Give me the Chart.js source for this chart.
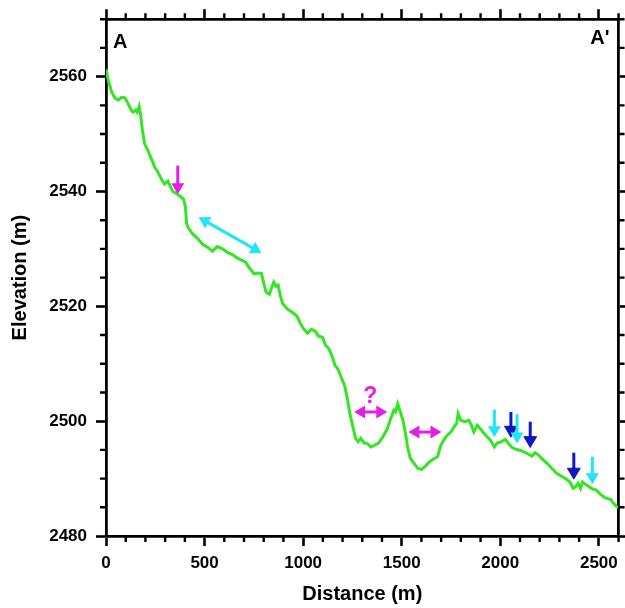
<!DOCTYPE html>
<html><head><meta charset="utf-8">
<script src="https://cdn.jsdelivr.net/npm/chart.js@4.4.1/dist/chart.umd.min.js"></script>
<style>html,body{margin:0;padding:0;background:#fff}#wrap{width:625px;height:608px;position:relative}</style>
</head><body><div id="wrap"><canvas id="c" width="625" height="608"></canvas></div>
<script>
// ---- data ----
const distance = [0,12,29,45,62,79,96,112,129,137,151,158,168,175,185,196,213,230,247,263,280,297,314,326,339,359,381,393,403,409,420,440,465,490,515,540,565,591,616,641,666,691,708,725,750,775,789,801,812,829,839,851,862,873,884,896,918,943,968,985,1002,1022,1041,1061,1078,1098,1114,1131,1148,1162,1178,1195,1212,1225,1237,1254,1266,1279,1292,1309,1326,1343,1363,1383,1405,1427,1447,1460,1469,1480,1490,1506,1519,1531,1544,1564,1581,1601,1618,1640,1665,1682,1698,1719,1732,1749,1766,1779,1786,1799,1819,1841,1853,1866,1883,1900,1925,1950,1970,1984,2004,2025,2042,2059,2081,2110,2135,2160,2177,2194,2210,2236,2261,2286,2311,2336,2353,2370,2383,2395,2407,2417,2437,2462,2487,2507,2529,2546,2562,2574,2588,2598];
const elevation = [2561.3,2559.3,2557.3,2556.3,2555.9,2556.4,2556.3,2555.3,2554.1,2553.8,2554.2,2553.8,2554.8,2553.5,2550.6,2548.3,2547.1,2545.7,2544.2,2543.4,2542.2,2541.3,2541.8,2540.9,2540.0,2539.6,2539.0,2538.7,2537.3,2534.4,2533.5,2532.6,2531.8,2530.8,2530.3,2529.6,2530.4,2530.0,2529.4,2529.0,2528.4,2528.0,2527.7,2526.8,2525.7,2525.8,2525.7,2523.9,2522.5,2522.1,2523.1,2524.2,2523.5,2523.7,2521.9,2520.5,2519.6,2519.0,2518.3,2517.1,2516.1,2515.3,2516.0,2515.7,2514.8,2514.6,2513.2,2512.6,2511.2,2509.7,2509.0,2507.5,2506.0,2503.8,2501.3,2498.8,2497.0,2496.4,2497.0,2496.2,2496.1,2495.5,2495.8,2496.2,2497.3,2498.7,2500.7,2501.9,2501.6,2503.0,2501.9,2500.2,2497.9,2495.3,2493.5,2492.6,2491.8,2491.6,2492.1,2492.9,2493.5,2493.8,2495.8,2497.0,2497.6,2498.1,2499.0,2499.6,2501.3,2500.2,2499.9,2500.1,2499.3,2498.1,2499.3,2498.6,2497.6,2496.7,2495.5,2496.2,2496.4,2496.8,2496.1,2495.4,2495.1,2494.8,2494.4,2493.9,2494.5,2494.1,2493.5,2492.7,2491.8,2490.9,2490.4,2489.9,2489.4,2488.3,2488.6,2489.2,2488.3,2489.4,2488.9,2488.3,2488.0,2487.3,2486.7,2486.5,2486.3,2485.7,2485.2,2484.9];

const xTickValues = [0,500,1000,1500,2000,2500];
const yTickValues = [2480,2500,2520,2540,2560];
const xRange = [0,2600];
const yRange = [2480,2570];
const xMinorStep = 100;
const yMinorStep = 5;

// annotation arrows (data units)
const downArrowX    = [364,    1970,   2054,   2085,   2152,   2373,   2467];
const downArrowTop  = [2544.5, 2502.0, 2501.6, 2501.2, 2499.9, 2494.5, 2493.8];
const downArrowTip  = [2539.5, 2497.2, 2497.2, 2496.1, 2495.4, 2489.9, 2489.0];
const downArrowKind = ['magenta','cyan','blue','cyan','blue','blue','cyan'];
const dblArrowX1 = [470, 1259, 1534];
const dblArrowY1 = [2535.5, 2501.6, 2498.1];
const dblArrowX2 = [789, 1427, 1702];
const dblArrowY2 = [2529.3, 2501.6, 2498.1];
const dblArrowKind = ['cyan','magenta','magenta'];
const questionX = [1341];
const questionY = [2504.3];
const questionText = ['?'];
const sectionLabels = ['A', "A'"];

// ---- styles ----
const COLORS = {magenta:'#e51ee5', cyan:'#1ee6f4', blue:'#0c18cc', line:'#33e622'};
const FONT = '"Liberation Sans", Arial, sans-serif';

function headPath(ctx, x, y, ang, len, half) {
  ctx.beginPath();
  ctx.moveTo(x, y);
  ctx.lineTo(x - len*Math.cos(ang) + half*Math.sin(ang), y - len*Math.sin(ang) - half*Math.cos(ang));
  ctx.lineTo(x - len*Math.cos(ang) - half*Math.sin(ang), y - len*Math.sin(ang) + half*Math.cos(ang));
  ctx.closePath();
}
function drawArrow(ctx, x1, y1, x2, y2, color, both, outline) {
  const ang = Math.atan2(y2-y1, x2-x1);
  const len = 11, half = 6.5;
  const sx = both ? x1 + len*0.8*Math.cos(ang) : x1, sy = both ? y1 + len*0.8*Math.sin(ang) : y1;
  const ex = x2 - len*0.8*Math.cos(ang), ey = y2 - len*0.8*Math.sin(ang);
  ctx.save();
  ctx.strokeStyle = color; ctx.fillStyle = color; ctx.lineWidth = 3; ctx.lineCap = 'butt';
  ctx.beginPath(); ctx.moveTo(sx, sy); ctx.lineTo(ex, ey); ctx.stroke();
  headPath(ctx, x2, y2, ang, len, half); ctx.fill();
  if (outline) { ctx.strokeStyle = outline; ctx.lineWidth = 0.7; ctx.stroke(); }
  if (both) { headPath(ctx, x1, y1, ang + Math.PI, len, half); ctx.fill(); }
  ctx.restore();
}

const decorPlugin = {
  id: 'decor',
  afterDatasetsDraw(chart) {
    const {ctx, scales: {x, y}, chartArea: ca} = chart;
    for (let i = 0; i < downArrowX.length; i++) {
      const k = downArrowKind[i];
      drawArrow(ctx, x.getPixelForValue(downArrowX[i]), y.getPixelForValue(downArrowTop[i]),
                x.getPixelForValue(downArrowX[i]), y.getPixelForValue(downArrowTip[i]),
                COLORS[k], false, k === 'blue' ? '#000060' : null);
    }
    for (let i = 0; i < dblArrowX1.length; i++) {
      drawArrow(ctx, x.getPixelForValue(dblArrowX1[i]), y.getPixelForValue(dblArrowY1[i]),
                x.getPixelForValue(dblArrowX2[i]), y.getPixelForValue(dblArrowY2[i]),
                COLORS[dblArrowKind[i]], true, null);
    }
    ctx.save();
    ctx.fillStyle = COLORS.magenta;
    ctx.font = 'bold 23px ' + FONT;
    ctx.textAlign = 'center'; ctx.textBaseline = 'middle';
    for (let i = 0; i < questionX.length; i++) {
      ctx.fillText(questionText[i], x.getPixelForValue(questionX[i]), y.getPixelForValue(questionY[i]));
    }
    ctx.fillStyle = '#000';
    ctx.font = 'bold 20px ' + FONT;
    ctx.textBaseline = 'alphabetic';
    ctx.textAlign = 'left';
    ctx.fillText(sectionLabels[0], ca.left + 7, ca.top + 29);
    ctx.textAlign = 'right';
    ctx.fillText(sectionLabels[1], ca.right - 9, ca.top + 25);
    ctx.restore();
  },
  afterDraw(chart) {
    const {ctx, scales: {x, y}, chartArea: ca} = chart;
    ctx.save();
    ctx.strokeStyle = '#000'; ctx.lineWidth = 2.4; ctx.lineCap = 'butt';
    ctx.beginPath();
    for (let v = xRange[0]; v <= xRange[1] + 1e-6; v += xMinorStep) {
      if (xTickValues.includes(v)) continue;
      const px = x.getPixelForValue(v);
      ctx.moveTo(px, ca.bottom); ctx.lineTo(px, ca.bottom + 6);
      ctx.moveTo(px, ca.top); ctx.lineTo(px, ca.top - 6);
    }
    for (let v = yRange[0]; v <= yRange[1] + 1e-6; v += yMinorStep) {
      if (yTickValues.includes(v)) continue;
      const py = y.getPixelForValue(v);
      ctx.moveTo(ca.left, py); ctx.lineTo(ca.left - 6, py);
      ctx.moveTo(ca.right, py); ctx.lineTo(ca.right + 6, py);
    }
    ctx.stroke();
    ctx.restore();
  }
};

const axisBorder = {display: true, color: '#000', width: 2.8};
const grid = {display: true, drawOnChartArea: false, drawTicks: true, tickLength: 10, tickColor: '#000', tickWidth: 2.6};
const tickFont = {family: FONT, size: 17, weight: 'bold'};
const titleFont = {family: FONT, size: 20, weight: 'bold'};
const plainNumber = v => String(v);

new Chart(document.getElementById('c'), {
  type: 'line',
  data: {
    datasets: [{
      data: distance.map((d, i) => ({x: d, y: elevation[i]})),
      borderColor: COLORS.line,
      borderWidth: 3,
      pointRadius: 0,
      tension: 0,
      fill: false
    }]
  },
  options: {
    responsive: false,
    animation: false,
    devicePixelRatio: 1,
    layout: {padding: 0},
    plugins: {legend: {display: false}, tooltip: {enabled: false}},
    scales: {
      x: {
        type: 'linear', position: 'bottom', min: xRange[0], max: xRange[1],
        afterBuildTicks: s => { s.ticks = xTickValues.map(v => ({value: v})); },
        afterFit: s => { s.height = 72; },
        border: axisBorder, grid: grid,
        ticks: {color: '#000', font: tickFont, padding: 7, maxRotation: 0, autoSkip: false, callback: plainNumber},
        title: {display: true, text: 'Distance (m)', color: '#000', font: titleFont, padding: {top: 0, bottom: 2}}
      },
      x2: {
        type: 'linear', axis: 'x', position: 'top', min: xRange[0], max: xRange[1],
        afterBuildTicks: s => { s.ticks = xTickValues.map(v => ({value: v})); },
        afterFit: s => { s.height = 18; },
        border: axisBorder, grid: grid,
        ticks: {display: false}
      },
      y: {
        type: 'linear', position: 'left', min: yRange[0], max: yRange[1],
        afterBuildTicks: s => { s.ticks = yTickValues.map(v => ({value: v})); },
        afterFit: s => { s.width = 106; },
        border: axisBorder, grid: grid,
        ticks: {color: '#000', font: tickFont, padding: 9, autoSkip: false, callback: plainNumber},
        title: {display: true, text: 'Elevation (m)', color: '#000', font: titleFont, padding: {top: 8, bottom: 0}}
      },
      y2: {
        type: 'linear', axis: 'y', position: 'right', min: yRange[0], max: yRange[1],
        afterBuildTicks: s => { s.ticks = yTickValues.map(v => ({value: v})); },
        afterFit: s => { s.width = 3; },
        border: axisBorder, grid: grid,
        ticks: {display: false}
      }
    }
  },
  plugins: [decorPlugin]
});
</script>
</body></html>
